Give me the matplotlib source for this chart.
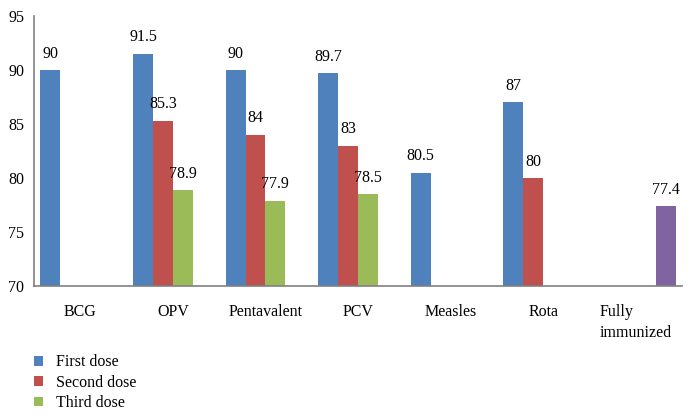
import matplotlib
matplotlib.use("Agg")
import matplotlib.pyplot as plt
import numpy as np

categories = ["BCG", "OPV", "Pentavalent", "PCV", "Measles", "Rota", "Fully\nimmunized"]
first_dose = [90, 91.5, 90, 89.7, 80.5, 87, None]
second_dose = [None, 85.3, 84, 83, None, 80, None]
third_dose = [None, 78.9, 77.9, 78.5, None, None, None]
fully_immunized = [None, None, None, None, None, None, 77.4]

series = [
    ("First dose", first_dose, "#4F81BD"),
    ("Second dose", second_dose, "#C0504D"),
    ("Third dose", third_dose, "#9BBB59"),
    ("Fully immunized", fully_immunized, "#8064A2"),
]

plt.rcParams['font.family'] = ['Liberation Serif', 'DejaVu Serif']
fig = plt.figure(figsize=(6.93, 4.18), dpi=100)
ax = fig.add_axes([34/693, 1-286/418, (682-34)/693, (286-16)/418])

FS = 11.5
n = len(series)
width = 0.215
x = np.arange(len(categories))
handles = []
for i, (name, vals, col) in enumerate(series):
    xs = [xi + (i - (n-1)/2) * width for xi, v in zip(x, vals) if v is not None]
    hs = [v for v in vals if v is not None]
    b = ax.bar(xs, hs, width=width, color=col, label=name)
    handles.append(b)
    for xx, v in zip(xs, hs):
        ax.annotate(f"{v:g}", (xx, v), xytext=(0, 6), textcoords="offset points",
                    ha="center", va="bottom", fontsize=FS)

ax.set_ylim(70, 95)
ax.set_xlim(-0.5, len(categories) - 0.5)
ax.set_yticks([70, 75, 80, 85, 90, 95])
ax.set_xticks(x)
ax.set_xticklabels(categories, multialignment="left", va="top", linespacing=1.45)
ax.tick_params(axis="both", length=0, labelsize=FS)
ax.tick_params(axis="y", pad=7)
ax.tick_params(axis="x", pad=13)
for s in ["top", "right"]:
    ax.spines[s].set_visible(False)
for s in ["left", "bottom"]:
    ax.spines[s].set_color("#808080")
    ax.spines[s].set_linewidth(1.2)

fig.legend(handles=handles[:3], labels=[s[0] for s in series[:3]],
           loc="upper left", bbox_to_anchor=(20/693, 1-340/418), frameon=False,
           fontsize=FS, handlelength=0.55, handleheight=0.55, handletextpad=0.8,
           labelspacing=0.28)

fig.savefig("out.png", dpi=100)
